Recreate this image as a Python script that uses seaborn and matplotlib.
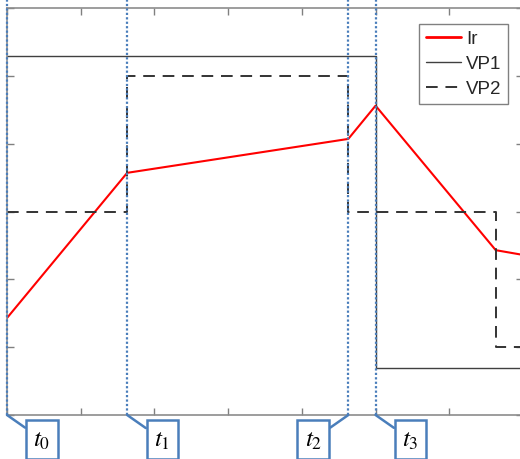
import numpy as np
import pandas as pd
import seaborn as sns
import matplotlib.pyplot as plt

# (x in tick units, y in tick units)
ir_x = [0.0, 1.63, 4.63, 5.0, 6.63, 7.0]
ir_y = [1.43, 3.57, 4.07, 4.56, 2.43, 2.36]

vp1_x = [0.0, 5.0, 7.0]
vp1_y = [5.29, 0.69, 0.69]

vp2_x = [0.0, 1.63, 4.63, 6.63, 7.0]
vp2_y = [3.0, 5.0, 3.0, 1.0, 1.0]

t_pos = [0.0, 1.63, 4.63, 5.0]
t_labels = ['$t_0$', '$t_1$', '$t_2$', '$t_3$']
t_side = [1, 1, -1, 1]

sns.set_theme(style='ticks')
plt.rcParams['font.family'] = ['Liberation Sans', 'DejaVu Sans']
plt.rcParams['mathtext.fontset'] = 'stix'

blue = '#4a7ebb'
W, H = 520, 459
fig = plt.figure(figsize=(W / 100, H / 100), dpi=100)
ax = fig.add_axes([7 / W, 44 / H, 516 / W, 407 / H])

ir = pd.DataFrame({'x': ir_x, 'y': ir_y})
vp1 = pd.DataFrame({'x': vp1_x, 'y': vp1_y})
vp2 = pd.DataFrame({'x': vp2_x, 'y': vp2_y})

sns.lineplot(data=ir, x='x', y='y', color='red', lw=1.5, ax=ax, label='Ir',
             estimator=None, sort=False)
sns.lineplot(data=vp1, x='x', y='y', color='#404040', lw=1.0, ax=ax, label='VP1',
             drawstyle='steps-post', estimator=None)
sns.lineplot(data=vp2, x='x', y='y', color='#333333', lw=1.4, ax=ax, label='VP2',
             drawstyle='steps-post', estimator=None, dashes=False)
ax.lines[-1].set_dashes([6, 4])

for t, lab, s in zip(t_pos, t_labels, t_side):
    ax.axvline(t, ymin=0, ymax=1 + 8 / 407, color=blue, lw=1.6,
               linestyle=(0, (1, 1)), clip_on=False, zorder=5)
    ax.annotate(lab, xy=(t, 0), xycoords='data',
                xytext=(s * 35, -24.5), textcoords='offset pixels',
                ha='center', va='center', fontsize=18, color='black',
                bbox=dict(boxstyle='square,pad=0.3', fc='white', ec=blue, lw=1.8),
                arrowprops=dict(arrowstyle='-', color=blue, lw=1.8,
                                shrinkA=0, shrinkB=0),
                annotation_clip=False)

ax.set_xlim(0, 7)
ax.set_ylim(0, 6)
ax.set_xticks(np.arange(0, 8))
ax.set_yticks(np.arange(0, 7))
ax.set_xticklabels([])
ax.set_yticklabels([])
ax.set_xlabel('')
ax.set_ylabel('')
ax.tick_params(direction='in', length=5, width=1, color='#808080',
               top=True, right=True)
for sp in ax.spines.values():
    sp.set_color('#8c8c8c')
    sp.set_linewidth(1.2)

leg = ax.legend(loc='upper right', bbox_to_anchor=(508 / W, (H - 24) / H),
                bbox_transform=fig.transFigure, fontsize=13.5, frameon=True,
                fancybox=False, edgecolor='#808080', framealpha=1,
                handlelength=1.9, handletextpad=0.25, labelspacing=0.42,
                borderpad=0.35, borderaxespad=0)
leg.get_frame().set_linewidth(1.0)
leg.get_lines()[0].set_linewidth(2.0)
leg.get_lines()[2].set_dashes([6, 4])

fig.savefig('out.png', dpi=100)
